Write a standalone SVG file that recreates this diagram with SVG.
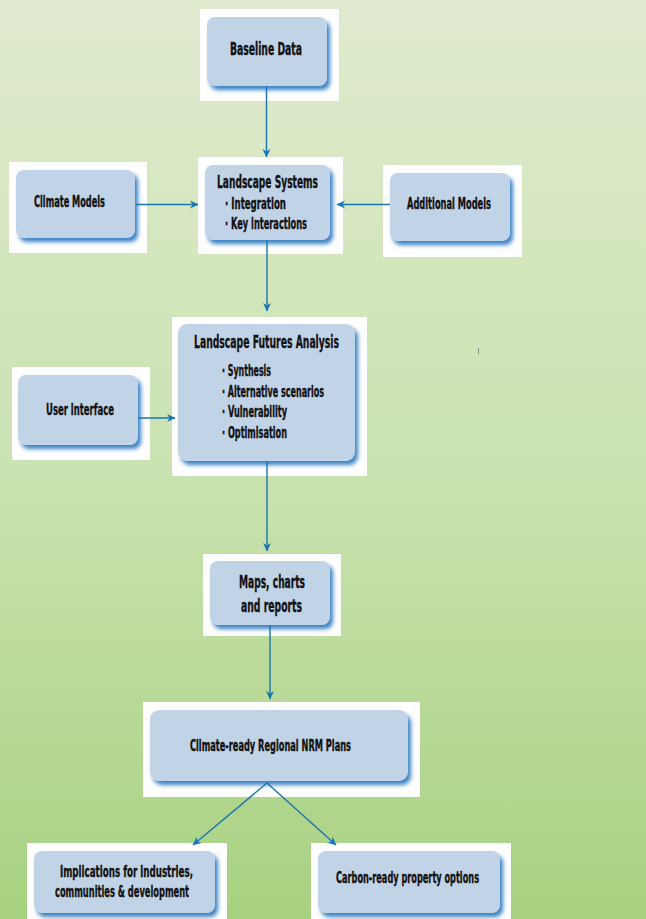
<svg xmlns="http://www.w3.org/2000/svg" width="646" height="919" viewBox="0 0 646 919">
<defs>
<linearGradient id="bg" x1="0" y1="0" x2="0" y2="1">
<stop offset="0" stop-color="#e0eacf"/>
<stop offset="0.5" stop-color="#cbe3b1"/>
<stop offset="1" stop-color="#a7d180"/>
</linearGradient>
<filter id="sh" x="-10%" y="-10%" width="125%" height="135%">
<feGaussianBlur in="SourceAlpha" stdDeviation="2.2" result="b"/>
<feOffset in="b" dx="2.5" dy="4" result="o"/>
<feFlood flood-color="#2f7bbf" flood-opacity="0.95"/>
<feComposite in2="o" operator="in" result="s"/>
<feMerge><feMergeNode in="s"/><feMergeNode in="SourceGraphic"/></feMerge>
</filter>
<marker id="ah" markerWidth="9" markerHeight="9" refX="8" refY="4.5" orient="auto" markerUnits="userSpaceOnUse">
<path d="M0,0.5 L8.5,4.5 L0,8.5 L2.5,4.5 z" fill="#1b75b3"/>
</marker>
</defs>
<style>
.bk{fill:#ffffff}
.bx{fill:#c1d3e7;filter:url(#sh)}
.t{font-family:"Liberation Sans Narrow","DejaVu Sans Condensed","Noto Sans",sans-serif;font-weight:bold;fill:#111111;stroke:#111111;stroke-width:0.35;font-stretch:condensed}
.c{stroke:#1b75b3;stroke-width:1.4;fill:none;marker-end:url(#ah)}
</style>
<rect width="646" height="919" fill="url(#bg)"/>
<line x1="478.5" y1="348" x2="478.5" y2="354" stroke="#777" stroke-width="0.8"/>

<g id="baseline-data">
<rect class="bk" x="200" y="9" width="139" height="92"/>
<rect class="bx" x="207" y="17" width="120" height="69" rx="8"/>
<text class="t" x="230" y="55" font-size="17" textLength="72" lengthAdjust="spacingAndGlyphs">Baseline Data</text>
</g>

<g id="climate-models">
<rect class="bk" x="9" y="162" width="138" height="91"/>
<rect class="bx" x="16" y="170" width="119" height="68" rx="8"/>
<text class="t" x="34" y="207" font-size="15" textLength="71" lengthAdjust="spacingAndGlyphs">Climate Models</text>
</g>

<g id="landscape-systems">
<rect class="bk" x="198" y="157" width="145" height="97"/>
<rect class="bx" x="205" y="165" width="125" height="75" rx="8"/>
<text class="t" x="217" y="188" font-size="17" textLength="101" lengthAdjust="spacingAndGlyphs">Landscape Systems</text>
<text class="t" x="225" y="209" font-size="15" textLength="61" lengthAdjust="spacingAndGlyphs">·  Integration</text>
<text class="t" x="225" y="229" font-size="15" textLength="82" lengthAdjust="spacingAndGlyphs">·  Key interactions</text>
</g>

<g id="additional-models">
<rect class="bk" x="383" y="165" width="139" height="92"/>
<rect class="bx" x="390" y="173" width="120" height="68" rx="8"/>
<text class="t" x="407" y="209" font-size="15" textLength="84" lengthAdjust="spacingAndGlyphs">Additional Models</text>
</g>

<g id="landscape-futures-analysis">
<rect class="bk" x="172" y="317" width="195" height="159"/>
<rect class="bx" x="178" y="324" width="177" height="137" rx="9"/>
<text class="t" x="194" y="348" font-size="18" textLength="145" lengthAdjust="spacingAndGlyphs">Landscape Futures Analysis</text>
<text class="t" x="222" y="376" font-size="15" textLength="49" lengthAdjust="spacingAndGlyphs">· Synthesis</text>
<text class="t" x="222" y="397" font-size="15" textLength="102" lengthAdjust="spacingAndGlyphs">· Alternative scenarios</text>
<text class="t" x="222" y="417" font-size="15" textLength="65" lengthAdjust="spacingAndGlyphs">· Vulnerability</text>
<text class="t" x="222" y="438" font-size="15" textLength="65" lengthAdjust="spacingAndGlyphs">· Optimisation</text>
</g>

<g id="user-interface">
<rect class="bk" x="12" y="367" width="138" height="93"/>
<rect class="bx" x="18" y="375" width="120" height="70" rx="8"/>
<text class="t" x="46" y="415" font-size="16" textLength="68" lengthAdjust="spacingAndGlyphs">User interface</text>
</g>

<g id="maps-charts-reports">
<rect class="bk" x="203" y="554" width="138" height="82"/>
<rect class="bx" x="210" y="561" width="120" height="64" rx="8"/>
<text class="t" x="239" y="588" font-size="17" textLength="66" lengthAdjust="spacingAndGlyphs">Maps, charts</text>
<text class="t" x="241" y="612" font-size="17" textLength="61" lengthAdjust="spacingAndGlyphs">and reports</text>
</g>

<g id="climate-ready-plans">
<rect class="bk" x="143" y="702" width="277" height="95"/>
<rect class="bx" x="150" y="710" width="258" height="71" rx="9"/>
<text class="t" x="190" y="751" font-size="15" textLength="161" lengthAdjust="spacingAndGlyphs">Climate-ready Regional NRM Plans</text>
</g>

<g id="implications">
<rect class="bk" x="27" y="843" width="200" height="76"/>
<rect class="bx" x="34" y="851" width="181" height="62" rx="8"/>
<text class="t" x="60" y="877" font-size="15" textLength="133" lengthAdjust="spacingAndGlyphs">Implications for industries,</text>
<text class="t" x="55" y="897" font-size="15" textLength="134" lengthAdjust="spacingAndGlyphs">communities &amp; development</text>
</g>

<g id="carbon-ready">
<rect class="bk" x="311" y="843" width="200" height="76"/>
<rect class="bx" x="318" y="851" width="182" height="62" rx="8"/>
<text class="t" x="336" y="883" font-size="15" textLength="143" lengthAdjust="spacingAndGlyphs">Carbon-ready property options</text>
</g>

<g id="connectors">
<line class="c" x1="266.5" y1="86" x2="266.5" y2="157"/>
<line class="c" x1="136" y1="204.5" x2="198" y2="204.5"/>
<line class="c" x1="390" y1="204.5" x2="337" y2="204.5"/>
<line class="c" x1="267" y1="240" x2="267" y2="311"/>
<line class="c" x1="138" y1="418" x2="175" y2="418"/>
<line class="c" x1="267" y1="461" x2="267" y2="551"/>
<line class="c" x1="270" y1="625" x2="270" y2="699"/>
<line class="c" x1="267" y1="783" x2="193" y2="845"/>
<line class="c" x1="267" y1="783" x2="336" y2="845"/>
</g>
</svg>
